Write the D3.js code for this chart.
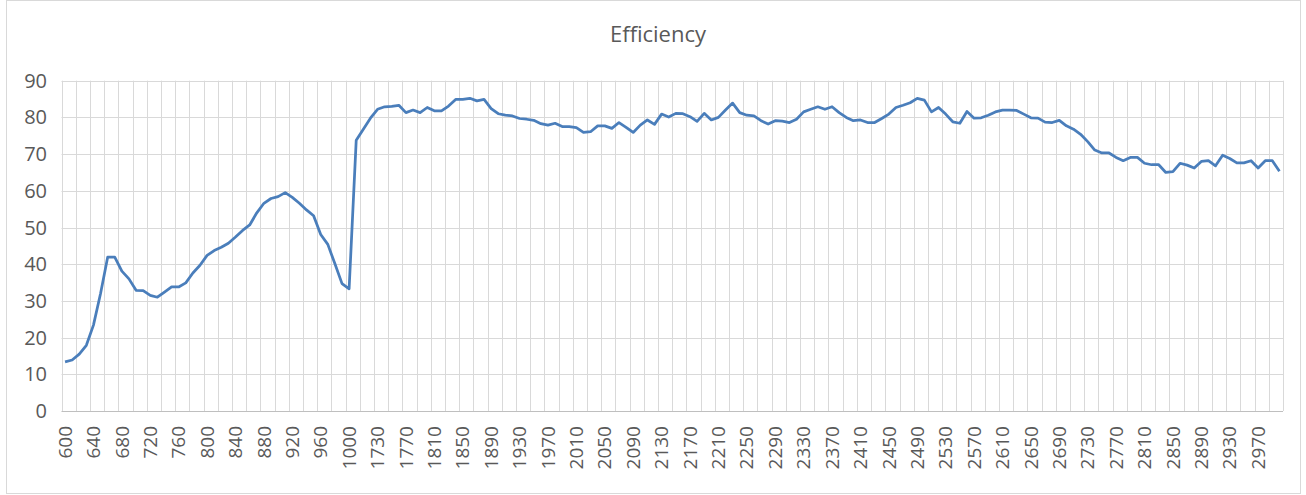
<!DOCTYPE html>
<html lang="en">
<head>
    <meta charset="UTF-8">
    <title>Efficiency</title>
    <script src="https://cdnjs.cloudflare.com/ajax/libs/d3/7.8.5/d3.min.js"></script>
    <style>
        body {
            margin: 0;
            padding: 0;
            background-color: #ffffff;
            font-family: "Open Sans", Arial, sans-serif;
        }
        .grid line {
            stroke: #d9d9d9;
            stroke-width: 1;
        }
        .y-label {
            fill: #595959;
            font-size: 20px;
        }
        .x-label {
            fill: #595959;
            font-size: 19px;
        }
        .title {
            fill: #595959;
            font-size: 22px;
        }
    </style>
</head>
<body>
    <div id="chart"></div>

    <script>
        // wavelength categories: two measured ranges
        const lowRange = d3.range(600, 1001, 10);
        const highRange = d3.range(1700, 3001, 10);
        const categories = lowRange.concat(highRange);

        // efficiency values for 600..1000
        const lowValues = [
            13.4, 13.9, 15.5, 17.9, 23.4, 32.0, 41.9, 41.9, 38.1, 36.0,
            32.9, 32.8, 31.5, 31.0, 32.4, 33.8, 33.8, 34.9, 37.6, 39.7,
            42.4, 43.7, 44.6, 45.7, 47.4, 49.2, 50.7, 54.0, 56.6, 57.9,
            58.4, 59.5, 58.2, 56.6, 54.8, 53.2, 48.1, 45.4, 40.1, 34.7,
            33.3
        ];

        // efficiency values for 1700..3000
        const highValues = [
            73.8, 76.8, 79.8, 82.2, 82.9, 83.0, 83.3, 81.3, 82.0, 81.3,
            82.7, 81.8, 81.8, 83.1, 84.9, 84.9, 85.2, 84.5, 84.9, 82.4,
            81.0, 80.6, 80.4, 79.7, 79.5, 79.2, 78.3, 77.9, 78.4, 77.5,
            77.5, 77.2, 75.9, 76.1, 77.7, 77.7, 77.0, 78.6, 77.3, 75.9,
            77.9, 79.3, 78.1, 80.9, 80.1, 81.1, 81.0, 80.2, 78.9, 81.1,
            79.3, 80.0, 82.0, 83.9, 81.3, 80.6, 80.4, 79.1, 78.2, 79.1,
            79.0, 78.6, 79.5, 81.5, 82.2, 82.9, 82.2, 82.9, 81.3, 80.0,
            79.1, 79.3, 78.6, 78.6, 79.7, 80.9, 82.7, 83.3, 84.0, 85.2,
            84.7, 81.5, 82.7, 80.9, 78.8, 78.4, 81.6, 79.8, 79.9, 80.6,
            81.5, 82.0, 82.0, 81.9, 80.9, 79.9, 79.8, 78.7, 78.6, 79.2,
            77.7, 76.8, 75.4, 73.4, 71.1, 70.3, 70.3, 69.1, 68.2, 69.1,
            69.1, 67.5, 67.1, 67.1, 65.0, 65.2, 67.5, 67.0, 66.2, 68.0,
            68.2, 66.8, 69.7, 68.8, 67.6, 67.6, 68.2, 66.2, 68.2, 68.2,
            65.3
        ];
        const values = lowValues.concat(highValues);

        const yTicks = [0, 10, 20, 30, 40, 50, 60, 70, 80, 90];

        const data = categories.map((c, i) => ({cat: c, value: values[i]}));

        const width = 1306;
        const height = 495;
        const margin = {top: 80.7, right: 23, bottom: 84, left: 61.5};

        const svg = d3.select("#chart")
            .append("svg")
            .attr("width", width)
            .attr("height", height);

        // outer chart border
        svg.append("rect")
            .attr("x", 6.5)
            .attr("y", 0.5)
            .attr("width", 1294)
            .attr("height", 493)
            .attr("fill", "none")
            .attr("stroke", "#d9d9d9");

        const x = d3.scaleBand()
            .domain(categories)
            .range([margin.left, width - margin.right])
            .padding(0);

        const y = d3.scaleLinear()
            .domain([0, 90])
            .range([height - margin.bottom, margin.top]);

        // horizontal gridlines
        svg.append("g")
            .attr("class", "grid")
            .selectAll("line")
            .data(yTicks.filter(t => t > 0))
            .enter().append("line")
            .attr("x1", margin.left)
            .attr("x2", width - margin.right)
            .attr("y1", d => Math.round(y(d)) + 0.5)
            .attr("y2", d => Math.round(y(d)) + 0.5);

        // vertical gridlines, one every two categories
        const vLines = categories.filter((c, i) => i % 2 === 0);
        svg.append("g")
            .attr("class", "grid")
            .selectAll("line")
            .data(vLines)
            .enter().append("line")
            .attr("x1", d => Math.round(x(d)) + 0.5)
            .attr("x2", d => Math.round(x(d)) + 0.5)
            .attr("y1", y(90))
            .attr("y2", y(0));

        svg.append("line")
            .attr("x1", Math.round(width - margin.right) + 0.5)
            .attr("x2", Math.round(width - margin.right) + 0.5)
            .attr("y1", y(90))
            .attr("y2", y(0))
            .attr("stroke", "#d9d9d9");

        // x axis baseline
        svg.append("line")
            .attr("x1", margin.left)
            .attr("x2", width - margin.right)
            .attr("y1", Math.round(y(0)) + 0.5)
            .attr("y2", Math.round(y(0)) + 0.5)
            .attr("stroke", "#bfbfbf");

        // y tick labels
        svg.append("g")
            .selectAll("text")
            .data(yTicks)
            .enter().append("text")
            .attr("class", "y-label")
            .attr("x", 47)
            .attr("y", d => y(d))
            .attr("dy", "0.35em")
            .attr("text-anchor", "end")
            .text(d => d);

        // x tick labels, every fourth category, rotated
        const xLabels = categories.filter((c, i) => i % 4 === 0);
        svg.append("g")
            .selectAll("text")
            .data(xLabels)
            .enter().append("text")
            .attr("class", "x-label")
            .attr("text-anchor", "end")
            .attr("transform", d => `translate(${x(d) + x.bandwidth() / 2},${y(0) + 15}) rotate(-90)`)
            .attr("dy", "0.35em")
            .text(d => d);

        // the data line
        const line = d3.line()
            .x(d => x(d.cat) + x.bandwidth() / 2)
            .y(d => y(d.value));

        svg.append("path")
            .datum(data)
            .attr("fill", "none")
            .attr("stroke", "#4a7ebb")
            .attr("stroke-width", 2.75)
            .attr("stroke-linejoin", "round")
            .attr("d", line);

        svg.append("text")
            .attr("class", "title")
            .attr("x", 658)
            .attr("y", 42)
            .attr("text-anchor", "middle")
            .text("Efficiency");
    </script>
</body>
</html>
